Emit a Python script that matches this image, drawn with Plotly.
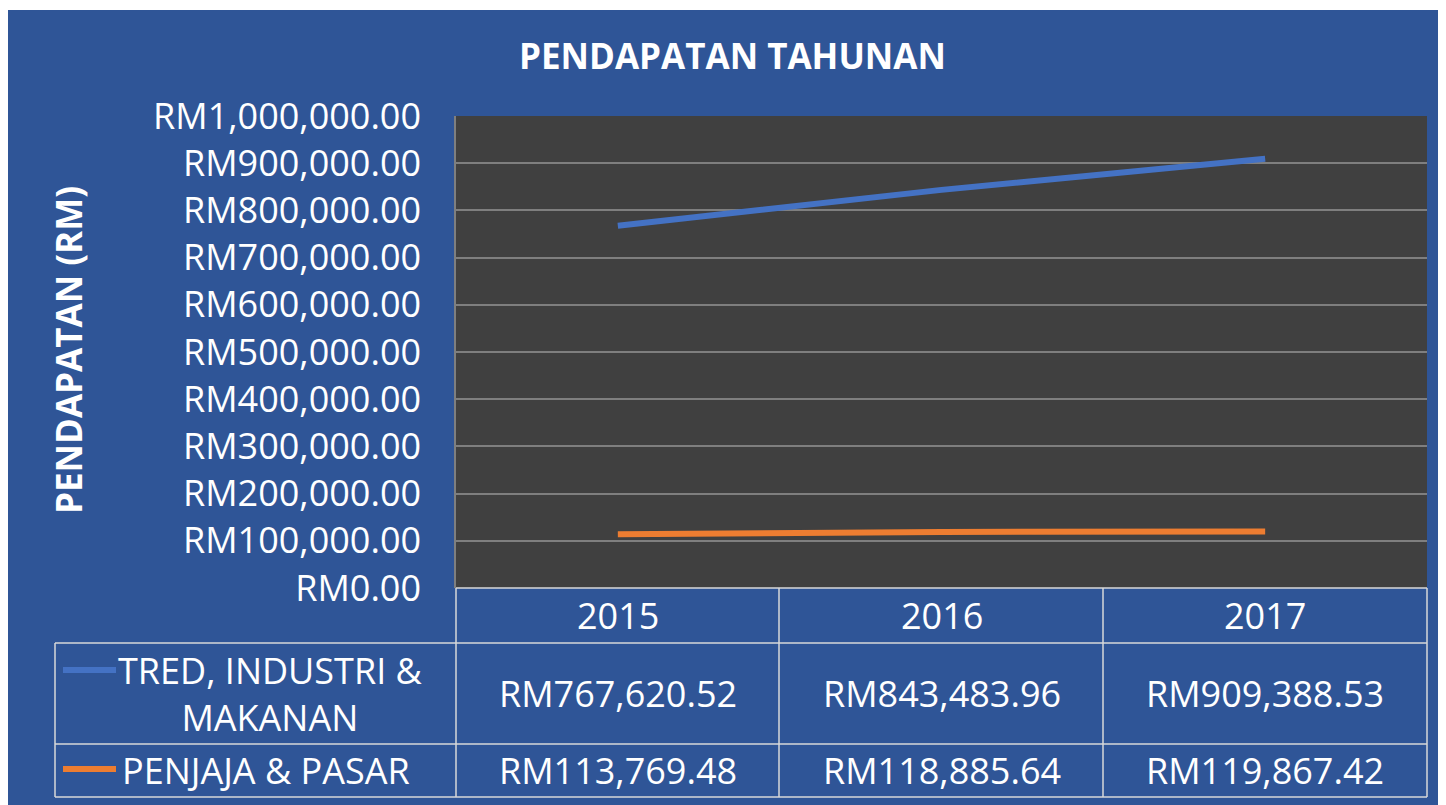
import plotly.graph_objects as go

# ---- data ----
years = ["2015", "2016", "2017"]
series_names = ["TRED, INDUSTRI &<br>MAKANAN", "PENJAJA & PASAR"]
tred_values = [767620.52, 843483.96, 909388.53]
penjaja_values = [113769.48, 118885.64, 119867.42]
series_values = [tred_values, penjaja_values]
series_colors = ["#4472C4", "#ED7D31"]
y_tick_values = [0, 100000, 200000, 300000, 400000, 500000, 600000, 700000, 800000, 900000, 1000000]
y_tick_text = ["RM{:,.2f}".format(v) for v in y_tick_values]

# ---- layout geometry (screen pixels; page has an 8px body margin) ----
OFF = 8
W, H = 1446 - OFF, 805 - OFF
PL, PR, PT, PB = 456, 1427, 116, 588  # plot area edges in screen pixels
BLUE = "#2F5597"
PLOTBG = "#404040"
GRID = "#7F7F7F"
TBL = "#D9D9D9"
FONT = "Open Sans"


def px(x):
    return (x - PL) / (PR - PL)


def py(y):
    return (PB - y) / (PB - PT)


fig = go.Figure()
for name, vals, col in zip(series_names, series_values, series_colors):
    fig.add_trace(go.Scatter(x=years, y=vals, mode="lines", name=name,
                             line=dict(color=col, width=6), hoverinfo="skip"))

shapes = []
# thin white strip at the very top
shapes.append(dict(type="rect", xref="paper", yref="paper", x0=px(0), x1=px(1446 + 10), y0=py(10), y1=py(0),
                   fillcolor="white", line=dict(width=0), layer="above"))

# data table grid
row_lines = [643, 744, 797]
col_x = [PL, 779, 1103, PR]
left_x = 55
lw = 1.5
shapes.append(dict(type="line", xref="paper", yref="paper", x0=px(PL), x1=px(PR), y0=py(PB), y1=py(PB),
                   line=dict(color=TBL, width=lw)))
for yy in row_lines:
    shapes.append(dict(type="line", xref="paper", yref="paper", x0=px(left_x), x1=px(PR), y0=py(yy), y1=py(yy),
                       line=dict(color=TBL, width=lw)))
for xx in col_x:
    shapes.append(dict(type="line", xref="paper", yref="paper", x0=px(xx), x1=px(xx), y0=py(PB), y1=py(797),
                       line=dict(color=TBL, width=lw)))
shapes.append(dict(type="line", xref="paper", yref="paper", x0=px(left_x), x1=px(left_x), y0=py(643), y1=py(797),
                   line=dict(color=TBL, width=lw)))

# legend keys
row_key_y = [670, 769]
for ky, col in zip(row_key_y, series_colors):
    shapes.append(dict(type="line", xref="paper", yref="paper", x0=px(63), x1=px(116), y0=py(ky), y1=py(ky),
                       line=dict(color=col, width=6)))

annotations = []
annotations.append(dict(text="<b>PENDAPATAN TAHUNAN</b>", xref="paper", yref="paper",
                        x=px(732), y=py(55), xanchor="center", yanchor="middle", showarrow=False,
                        font=dict(family=FONT, size=35, color="white")))
annotations.append(dict(text="<b>PENDAPATAN (RM)</b>", xref="paper", yref="paper", textangle=-90,
                        x=px(68), y=py(350), xanchor="center", yanchor="middle", showarrow=False,
                        font=dict(family=FONT, size=35, color="white")))
for i, yr in enumerate(years):
    annotations.append(dict(text=yr, xref="x", yref="paper", x=i, y=py((PB + 643) / 2),
                            xanchor="center", yanchor="middle", showarrow=False,
                            font=dict(family=FONT, size=36, color="white")))
row_centers = [(643 + 744) / 2, (744 + 797) / 2]
label_pos = [(270, "center"), (120, "left")]
for name, vals, rc, (lx, anc) in zip(series_names, series_values, row_centers, label_pos):
    annotations.append(dict(text=name, xref="paper", yref="paper", x=px(lx), y=py(rc),
                            xanchor=anc, yanchor="middle", showarrow=False, align="center",
                            font=dict(family=FONT, size=36, color="white")))
    for i, v in enumerate(vals):
        annotations.append(dict(text="RM{:,.2f}".format(v), xref="x", yref="paper", x=i, y=py(rc),
                                xanchor="center", yanchor="middle", showarrow=False,
                                font=dict(family=FONT, size=36, color="white")))

fig.update_layout(
    width=W, height=H,
    margin=dict(l=PL - OFF, r=1446 - PR, t=PT - OFF, b=805 - PB, pad=0),
    paper_bgcolor=BLUE,
    plot_bgcolor=PLOTBG,
    showlegend=False,
    hovermode=False,
    shapes=shapes,
    annotations=annotations,
    xaxis=dict(type="category", categoryorder="array", categoryarray=years, range=[-0.5, 2.5],
               showticklabels=False, showgrid=False, zeroline=False, showline=False, fixedrange=True),
    yaxis=dict(range=[0, 1000000], tickmode="array", tickvals=y_tick_values, ticktext=y_tick_text,
               tickfont=dict(family=FONT, size=36, color="white"),
               ticks="outside", ticklen=26, tickcolor="rgba(0,0,0,0)",
               showgrid=True, gridcolor=GRID, gridwidth=1.5,
               zeroline=False, showline=True, linecolor=GRID, linewidth=1.5, fixedrange=True),
)

fig.write_html("out.html")
